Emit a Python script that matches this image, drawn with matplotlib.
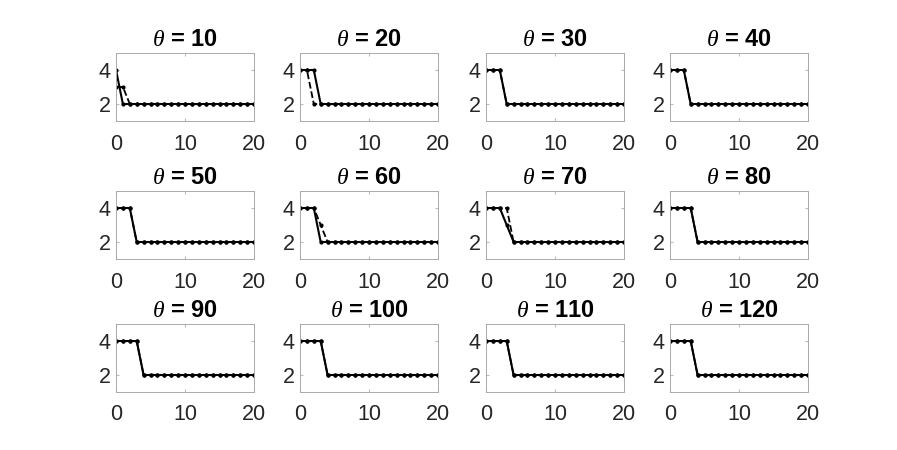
import numpy as np
import matplotlib
matplotlib.use('Agg')
import matplotlib.pyplot as plt

# Dados
x = np.arange(0, 21)
thetas = [10, 20, 30, 40, 50, 60, 70, 80, 90, 100, 110, 120]

# inicio de cada serie (resto = 2)
solid_head = {
    10: [4],
    20: [4, 4, 4],
    30: [4, 4, 4],
    40: [4, 4, 4],
    50: [4, 4, 4],
    60: [4, 4, 4],
    70: [4, 4, 4, 3],
    80: [4, 4, 4, 4],
    90: [4, 4, 4, 4],
    100: [4, 4, 4, 4],
    110: [4, 4, 4, 4],
    120: [4, 4, 4, 4],
}
dashed_head = {
    10: [3, 3],
    20: [4, 4],
    30: [4, 4, 4],
    40: [4, 4, 4],
    50: [4, 4, 4],
    60: [4, 4, 4, 3],
    70: [4, 4, 4, 4],
    80: [4, 4, 4, 4],
    90: [4, 4, 4, 4],
    100: [4, 4, 4, 4],
    110: [4, 4, 4, 4],
    120: [4, 4, 4, 4],
}


def full(head):
    return head + [2] * (len(x) - len(head))


plt.rcParams['font.family'] = ['Liberation Sans', 'DejaVu Sans']
plt.rcParams['mathtext.fontset'] = 'custom'
plt.rcParams['mathtext.it'] = 'Liberation Serif:italic'

fig = plt.figure(figsize=(8.97, 4.5), dpi=100)
W, H = 897.0, 450.0
lefts = [116, 300, 486, 670]
tops = [53, 191, 324]
aw, ah = 138, 68

for i, th in enumerate(thetas):
    r, c = divmod(i, 4)
    ax = fig.add_axes([lefts[c] / W, 1 - (tops[r] + ah) / H, aw / W, ah / H])
    ax.plot(x, full(dashed_head[th]), 'k--', lw=1.3, marker='.', ms=4)
    ax.plot(x, full(solid_head[th]), 'k-', lw=1.5, marker='.', ms=4)
    ax.set_xlim(0, 20)
    ax.set_ylim(1, 5)
    ax.set_xticks([0, 10, 20])
    ax.set_yticks([2, 4])
    ax.tick_params(direction='in', top=True, right=True, length=2.5,
                   labelsize=15.5, colors='#262626', color='#bbbbbb')
    ax.tick_params(axis='x', pad=9)
    ax.tick_params(axis='y', pad=4)
    for s in ax.spines.values():
        s.set_color('#aaaaaa')
        s.set_linewidth(0.7)
    ax.set_title(r'$\theta$ = ' + str(th), fontsize=17, fontweight='bold', pad=5)

plt.savefig('out.png', dpi=100)
